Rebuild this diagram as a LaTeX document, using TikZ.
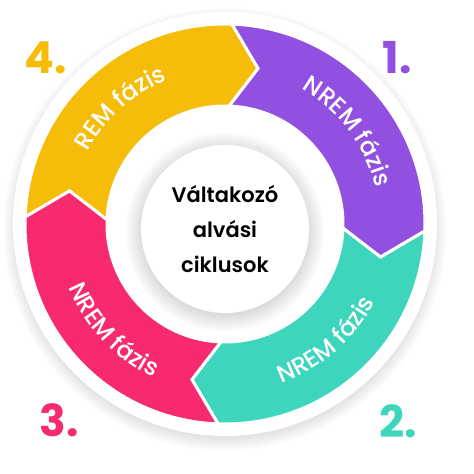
\documentclass[tikz,border=0pt]{standalone}
\usepackage{fontspec}
\setmainfont{Poppins}
\newfontfamily\hubfont{Poppins SemiBold}
\newfontfamily\phasefont{Poppins Medium}
\usetikzlibrary{decorations.text}

\definecolor{phaseyellow}{HTML}{F6BC0A}
\definecolor{phasepurple}{HTML}{9150E0}
\definecolor{phaseteal}{HTML}{3DD6BD}
\definecolor{phasepink}{HTML}{F7296F}

\tikzset{
  segment/.style={draw=white, line width=3pt, line join=miter},
  phasenum/.style={font=\bfseries\fontsize{44}{44}\selectfont, inner sep=0pt},
  hub/.style={circle, fill=white, minimum size=168pt, inner sep=0pt, align=center,
    font=\hubfont\fontsize{21}{35}\selectfont}
}

\begin{document}
\begin{tikzpicture}[x=1pt,y=1pt]
\useasboundingbox (-225,-250) rectangle (249,224);

% soft shadow round the white disk
\foreach \i in {1,...,14}
  \fill [black, opacity=0.007] (0,-5) circle (208+\i);
\fill [white] (0,0) circle (212);

% shadow of the middle disk
\foreach \i in {1,...,18}
  \fill [black, opacity=0.006] (0,-8) circle (82+\i);

% the four arrows, head angle / colour
\foreach \h/\col in {88/phaseyellow, -2/phasepurple, -92/phaseteal, 178/phasepink}
  \path [segment, fill=\col] (\h+90:200) arc [start angle=\h+90, end angle=\h, radius=200]
    -- (\h-10:159) -- (\h:118) arc [start angle=\h, end angle=\h+90, radius=118]
    -- (\h+80:159) -- cycle;

% labels on the arrows
\path [decorate, decoration={text along path, text align=center,
  text={|\phasefont\fontsize{24}{28}\selectfont\color{white}|NREM fázis}}]
  (77:155) arc [start angle=77, end angle=-3, radius=155];
\path [decorate, decoration={text along path, text align=center,
  text={|\phasefont\fontsize{24}{28}\selectfont\color{white}|NREM fázis}}]
  (-89:169) arc [start angle=-89, end angle=-9, radius=169];
\path [decorate, decoration={text along path, text align=center,
  text={|\phasefont\fontsize{24}{28}\selectfont\color{white}|NREM fázis}}]
  (183.5:169) arc [start angle=183.5, end angle=263.5, radius=169];
\path [decorate, decoration={text along path, text align=center,
  text={|\phasefont\fontsize{24}{28}\selectfont\color{white}|REM fázis}}]
  (172:155) arc [start angle=172, end angle=92, radius=155];

\node [hub] (hub) at (0,-5) {Váltakozó\\alvási\\ciklusok};

\node [phasenum, text=phasepurple] (one) at (172,166) {1.};
\node [phasenum, text=phaseteal] (two) at (173,-197) {2.};
\node [phasenum, text=phasepink] (three) at (-166,-196) {3.};
\node [phasenum, text=phaseyellow] (four) at (-179,166) {4.};
\end{tikzpicture}
\end{document}
